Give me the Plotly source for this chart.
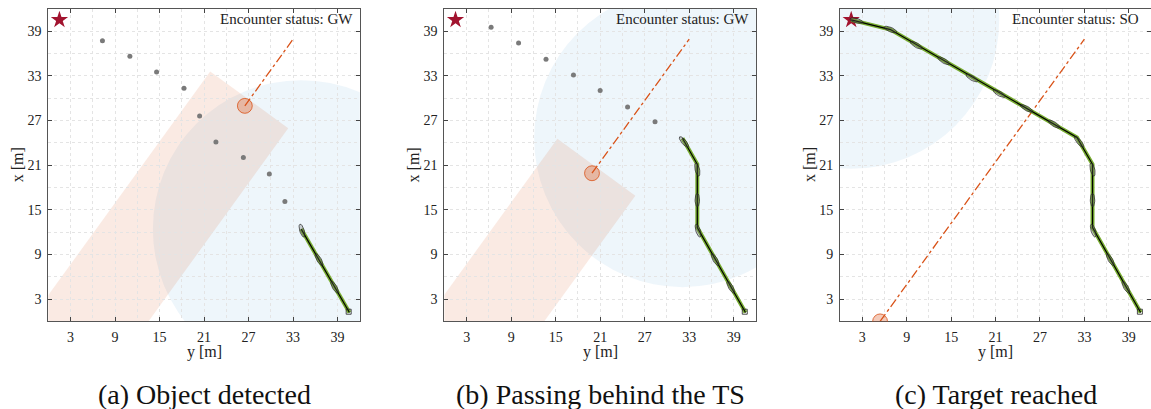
import numpy as np
import plotly.graph_objects as go

FONT = "'Liberation Serif', 'DejaVu Serif', serif"
CAP_FONT = FONT
W, H = 1151, 409

# ---------------- data (horizontal axis = y [m], vertical axis = x [m]) -------------
# own-ship trajectory vertices
path_y = [40.6, 34.1, 34.1, 32.0, 6.8, 1.5]
path_x = [1.2, 12.6, 21.1, 24.7, 39.2, 40.5]

# sampled own-ship outlines along the trajectory
ship_y = [40.5, 38.6, 36.5, 34.2, 34.1, 34.1, 32.3, 28.9, 25.2, 21.5, 17.8, 14.0, 10.3, 6.8, 2.2]
ship_x = [1.3, 4.6, 8.3, 12.2, 16.3, 20.4, 24.1, 26.5, 28.6, 30.6, 32.7, 35.0, 37.1, 39.2, 40.4]

# target
target_y = [1.5]
target_x = [40.5]

# per-panel state
captions = ["(a) Object detected", "(b) Passing behind the TS", "(c) Target reached"]
status = ["GW", "GW", "SO"]
own_y = [34.1, 32.1, 1.5]
own_x = [12.4, 24.6, 40.5]
path_vertices_used = [1, 3, 6]
ships_shown = [4, 7, 15]
obs_y = [26.5, 19.9, 5.4]
obs_x = [28.95, 19.9, 0.0]
obs_goal_y = 33.0
obs_goal_x = 37.9
zone_shown = [True, True, False]

# planned waypoints (grey dots)
plan_y = [[7.3, 11.0, 14.6, 18.3, 20.4, 22.6, 26.3, 29.8, 31.9],
          [6.3, 10.0, 13.7, 17.4, 21.0, 24.7, 28.4],
          []]
plan_x = [[37.7, 35.6, 33.5, 31.3, 27.6, 24.1, 22.0, 19.8, 16.1],
          [39.5, 37.4, 35.2, 33.1, 31.0, 28.8, 26.8],
          []]

tick_vals = [3, 9, 15, 21, 27, 33, 39]
minor_grid_vals = [0, 6, 12, 18, 24, 30, 36, 42]

# ---------------- geometry constants -------------
detect_radius = 20.0
obs_radius = 1.0
zone_front = 1.0
zone_half_width = 6.5
zone_length = 45.0
ship_len = 1.8
ship_beam = 0.6

# ---------------- layout positions (pixels) -------------
panel_left = [48.3, 444.4, 840.1]
panel_width = 311.5
panel_top = 8.7
panel_bottom = 321.4
status_right = [355, 751, 1141]

fig = go.Figure()

BLUE_FILL = "rgba(0,114,189,0.065)"
ORANGE = "#D95319"
ORANGE_FILL = "rgba(217,83,25,0.12)"
GREEN = "#77AC30"
STAR = "#A2142F"
GRID = "#e4e4e4"

shapes = []
annotations = []

for i in range(3):
    ax = "" if i == 0 else str(i + 1)
    xr, yr = "x" + ax, "y" + ax

    # detection circle around own ship
    shapes.append(dict(type="circle", xref=xr, yref=yr, layer="below",
                       x0=own_y[i] - detect_radius, x1=own_y[i] + detect_radius,
                       y0=own_x[i] - detect_radius, y1=own_x[i] + detect_radius,
                       fillcolor=BLUE_FILL, line=dict(width=0)))

    # obstacle heading
    d = np.array([obs_goal_y - obs_y[i], obs_goal_x - obs_x[i]])
    u = d / np.linalg.norm(d)
    n = np.array([u[1], -u[0]])
    c = np.array([obs_y[i], obs_x[i]])
    if zone_shown[i]:
        f = c + zone_front * u
        b = c - zone_length * u
        pts = [f + zone_half_width * n, f - zone_half_width * n,
               b - zone_half_width * n, b + zone_half_width * n]
        path = "M " + " L ".join(f"{p[0]:.3f},{p[1]:.3f}" for p in pts) + " Z"
        shapes.append(dict(type="path", xref=xr, yref=yr, layer="below", path=path,
                           fillcolor=ORANGE_FILL, line=dict(width=0)))

    # obstacle predicted track
    fig.add_trace(go.Scatter(x=[obs_y[i], obs_goal_y], y=[obs_x[i], obs_goal_x],
                             mode="lines", line=dict(color=ORANGE, width=1.3, dash="dashdot"),
                             xaxis=xr, yaxis=yr, showlegend=False, hoverinfo="skip"))
    shapes.append(dict(type="circle", xref=xr, yref=yr, layer="above",
                       x0=obs_y[i] - obs_radius, x1=obs_y[i] + obs_radius,
                       y0=obs_x[i] - obs_radius, y1=obs_x[i] + obs_radius,
                       fillcolor="rgba(217,83,25,0.3)", line=dict(color=ORANGE, width=0.8)))

    # planned waypoints
    if plan_y[i]:
        fig.add_trace(go.Scatter(x=plan_y[i], y=plan_x[i], mode="markers",
                                 marker=dict(color="#7a7a7a", size=5),
                                 xaxis=xr, yaxis=yr, showlegend=False, hoverinfo="skip"))

    # target star
    fig.add_trace(go.Scatter(x=target_y, y=target_x, mode="markers",
                             marker=dict(symbol="star", color=STAR, size=13,
                                         line=dict(width=0)),
                             xaxis=xr, yaxis=yr, showlegend=False, hoverinfo="skip"))

    # trajectory
    k = path_vertices_used[i]
    ty = path_y[:k] + [own_y[i]]
    tx = path_x[:k] + [own_x[i]]
    fig.add_trace(go.Scatter(x=ty, y=tx, mode="lines", line=dict(color=GREEN, width=4),
                             xaxis=xr, yaxis=yr, showlegend=False, hoverinfo="skip"))
    fig.add_trace(go.Scatter(x=ty, y=tx, mode="lines", line=dict(color="black", width=1.2),
                             xaxis=xr, yaxis=yr, showlegend=False, hoverinfo="skip"))

    # ship outlines (ellipses oriented along the track)
    m = ships_shown[i]
    sy = np.array(ship_y[:m])
    sx = np.array(ship_x[:m])
    ex, ey = [], []
    t = np.linspace(0, 2 * np.pi, 25)
    for j in range(1, m):
        j0 = j - 1
        j1 = min(j + 1, len(ship_y) - 1)
        hy = ship_y[j1] - ship_y[j0]
        hx = ship_x[j1] - ship_x[j0]
        hn = np.hypot(hy, hx)
        uy, ux = hy / hn, hx / hn
        a = ship_len / 2 * np.cos(t)
        bb = ship_beam / 2 * np.sin(t)
        ex += list(sy[j] + a * uy - bb * ux) + [None]
        ey += list(sx[j] + a * ux + bb * uy) + [None]
    fig.add_trace(go.Scatter(x=ex, y=ey, mode="lines", fill="toself",
                             fillcolor="rgba(110,110,110,0.3)",
                             line=dict(color="#222", width=0.7),
                             xaxis=xr, yaxis=yr, showlegend=False, hoverinfo="skip"))
    # start marker
    fig.add_trace(go.Scatter(x=ship_y[:1], y=ship_x[:1], mode="markers",
                             marker=dict(symbol="square-open", color="#222", size=5,
                                         line=dict(width=0.8)),
                             xaxis=xr, yaxis=yr, showlegend=False, hoverinfo="skip"))

    # axes
    x0p = panel_left[i] / W
    x1p = (panel_left[i] + panel_width) / W
    axis_common = dict(range=[0, 42], tickvals=tick_vals, ticks="inside", ticklen=4,
                       tickcolor="#444", showline=True, linecolor="#555", linewidth=1,
                       mirror="ticks", showgrid=True, gridcolor=GRID, griddash="dot",
                       gridwidth=1, zeroline=False,
                       tickfont=dict(family=FONT, size=14, color="#222"),
                       minor=dict(tickvals=minor_grid_vals, showgrid=True,
                                  gridcolor=GRID, griddash="dot", gridwidth=1, ticks=""))
    fig.update_layout(**{
        "xaxis" + ax: dict(domain=[x0p, min(x1p, 1.0)], anchor=yr, ticklabelstandoff=3,
                           **axis_common),
        "yaxis" + ax: dict(domain=[1 - panel_bottom / H, 1 - panel_top / H], anchor=xr,
                           ticklabelstandoff=3, **axis_common),
    })

    cx = (panel_left[i] + panel_width / 2) / W
    annotations.append(dict(text="y [m]", xref="paper", yref="paper", x=cx, y=1 - 352 / H,
                            showarrow=False, xanchor="center", yanchor="middle",
                            font=dict(family=FONT, size=16, color="#222")))
    annotations.append(dict(text="x [m]", xref="paper", yref="paper",
                            x=(panel_left[i] - 31) / W, y=1 - 165 / H, textangle=-90,
                            showarrow=False, xanchor="center", yanchor="middle",
                            font=dict(family=FONT, size=16, color="#222")))
    annotations.append(dict(text="Encounter status: " + status[i], xref="paper", yref="paper",
                            x=status_right[i] / W, y=1 - 19 / H, showarrow=False,
                            xanchor="right", yanchor="middle",
                            font=dict(family=FONT, size=15, color="#222")))
    annotations.append(dict(text=captions[i], xref="paper", yref="paper", x=cx, y=1 - 394 / H,
                            showarrow=False, xanchor="center", yanchor="middle",
                            font=dict(family=CAP_FONT, size=28, color="#111")))

fig.update_layout(width=W, height=H, margin=dict(l=0, r=0, t=0, b=0),
                  paper_bgcolor="white", plot_bgcolor="white",
                  font=dict(family=FONT),
                  shapes=shapes, annotations=annotations, showlegend=False)

fig.write_html("out.html")
